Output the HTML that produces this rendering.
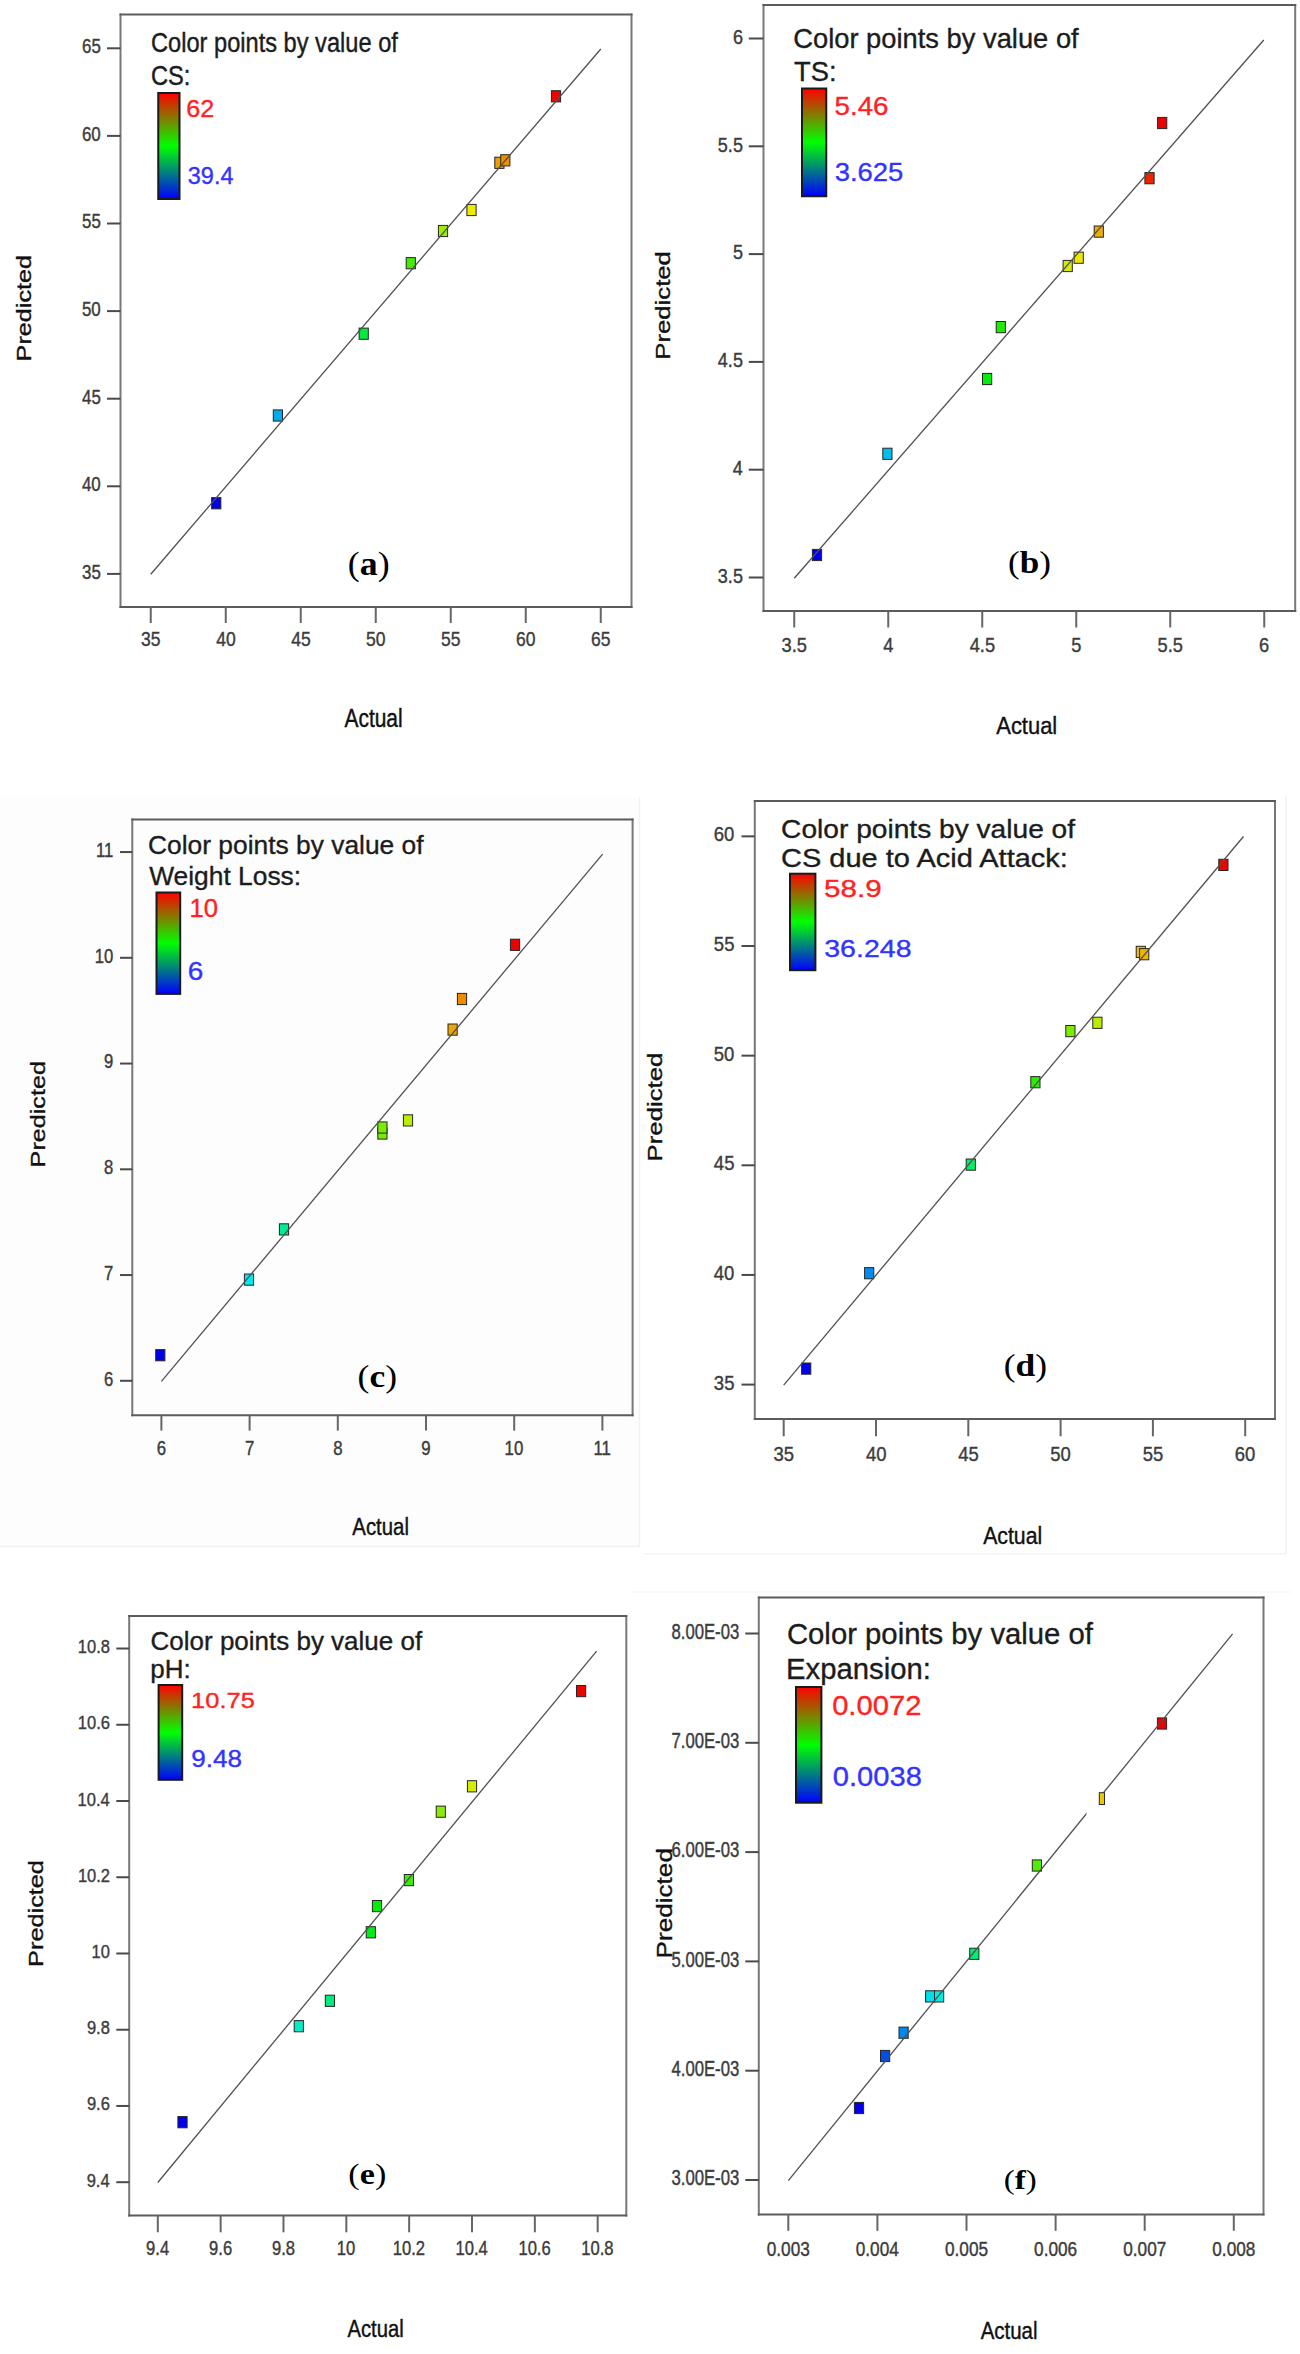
<!DOCTYPE html>
<html><head><meta charset="utf-8"><title>Predicted vs Actual</title>
<style>
html,body{margin:0;padding:0;background:#fff;}
body{width:1300px;height:2354px;overflow:hidden;font-family:"Liberation Sans",sans-serif;}
svg{display:block;}
#wrap{width:1300px;height:2354px;}
</style></head>
<body>
<div id="wrap">
<svg width="1300" height="2354" viewBox="0 0 1300 2354">
<defs>
<linearGradient id="cb" x1="0" y1="0" x2="0" y2="1">
<stop offset="0" stop-color="#ff0000"/>
<stop offset="0.5" stop-color="#00ff00"/>
<stop offset="1" stop-color="#0000ff"/>
</linearGradient>
</defs>
<rect x="0" y="0" width="1300" height="2354" fill="#ffffff"/>
<rect x="0" y="797" width="639.5" height="749" fill="#fdfdfd"/>
<path d="M639.5,797V1546.5H0" stroke="#f1f1f1" stroke-width="1.5" fill="none"/>
<path d="M644,1553.8H1286V795" stroke="#f4f4f4" stroke-width="1.5" fill="none"/>
<path d="M632,1592H1292" stroke="#f6f6f6" stroke-width="1.2" fill="none"/>
<path d="M120.50,13.50V608.00M631.50,13.50V608.00" stroke="#787878" stroke-width="2" fill="none"/>
<path d="M119.50,14.50H632.50M119.50,607.00H632.50" stroke="#5c5c5c" stroke-width="2" fill="none"/>
<line x1="150.75" y1="607.00" x2="150.75" y2="623.00" stroke="#666666" stroke-width="2"/>
<line x1="225.75" y1="607.00" x2="225.75" y2="623.00" stroke="#666666" stroke-width="2"/>
<line x1="300.75" y1="607.00" x2="300.75" y2="623.00" stroke="#666666" stroke-width="2"/>
<line x1="375.75" y1="607.00" x2="375.75" y2="623.00" stroke="#666666" stroke-width="2"/>
<line x1="450.75" y1="607.00" x2="450.75" y2="623.00" stroke="#666666" stroke-width="2"/>
<line x1="525.75" y1="607.00" x2="525.75" y2="623.00" stroke="#666666" stroke-width="2"/>
<line x1="600.75" y1="607.00" x2="600.75" y2="623.00" stroke="#666666" stroke-width="2"/>
<line x1="107.00" y1="573.90" x2="120.50" y2="573.90" stroke="#4a4a4a" stroke-width="2"/>
<line x1="107.00" y1="486.30" x2="120.50" y2="486.30" stroke="#4a4a4a" stroke-width="2"/>
<line x1="107.00" y1="398.70" x2="120.50" y2="398.70" stroke="#4a4a4a" stroke-width="2"/>
<line x1="107.00" y1="311.10" x2="120.50" y2="311.10" stroke="#4a4a4a" stroke-width="2"/>
<line x1="107.00" y1="223.50" x2="120.50" y2="223.50" stroke="#4a4a4a" stroke-width="2"/>
<line x1="107.00" y1="135.90" x2="120.50" y2="135.90" stroke="#4a4a4a" stroke-width="2"/>
<line x1="107.00" y1="48.30" x2="120.50" y2="48.30" stroke="#4a4a4a" stroke-width="2"/>
<text transform="translate(141.04,646.24) scale(0.8900,1.0000)" font-family='"Liberation Sans", sans-serif' font-weight="normal" font-size="19.70" fill="#3c3c3c" stroke="#3c3c3c" stroke-width="0.39">35</text>
<text transform="translate(216.15,646.24) scale(0.8900,1.0000)" font-family='"Liberation Sans", sans-serif' font-weight="normal" font-size="19.70" fill="#3c3c3c" stroke="#3c3c3c" stroke-width="0.39">40</text>
<text transform="translate(291.17,646.24) scale(0.8900,1.0000)" font-family='"Liberation Sans", sans-serif' font-weight="normal" font-size="19.70" fill="#3c3c3c" stroke="#3c3c3c" stroke-width="0.39">45</text>
<text transform="translate(366.00,646.24) scale(0.8900,1.0000)" font-family='"Liberation Sans", sans-serif' font-weight="normal" font-size="19.70" fill="#3c3c3c" stroke="#3c3c3c" stroke-width="0.39">50</text>
<text transform="translate(441.02,646.24) scale(0.8900,1.0000)" font-family='"Liberation Sans", sans-serif' font-weight="normal" font-size="19.70" fill="#3c3c3c" stroke="#3c3c3c" stroke-width="0.39">55</text>
<text transform="translate(515.91,646.24) scale(0.8900,1.0000)" font-family='"Liberation Sans", sans-serif' font-weight="normal" font-size="19.70" fill="#3c3c3c" stroke="#3c3c3c" stroke-width="0.39">60</text>
<text transform="translate(590.93,646.24) scale(0.8900,1.0000)" font-family='"Liberation Sans", sans-serif' font-weight="normal" font-size="19.70" fill="#3c3c3c" stroke="#3c3c3c" stroke-width="0.39">65</text>
<text transform="translate(82.00,578.74) scale(0.8500,1.0000)" font-family='"Liberation Sans", sans-serif' font-weight="normal" font-size="19.90" fill="#3c3c3c" stroke="#3c3c3c" stroke-width="0.41">35</text>
<text transform="translate(81.96,491.14) scale(0.8500,1.0000)" font-family='"Liberation Sans", sans-serif' font-weight="normal" font-size="19.90" fill="#3c3c3c" stroke="#3c3c3c" stroke-width="0.41">40</text>
<text transform="translate(82.00,403.54) scale(0.8500,1.0000)" font-family='"Liberation Sans", sans-serif' font-weight="normal" font-size="19.90" fill="#3c3c3c" stroke="#3c3c3c" stroke-width="0.41">45</text>
<text transform="translate(81.96,315.94) scale(0.8500,1.0000)" font-family='"Liberation Sans", sans-serif' font-weight="normal" font-size="19.90" fill="#3c3c3c" stroke="#3c3c3c" stroke-width="0.41">50</text>
<text transform="translate(82.00,228.34) scale(0.8500,1.0000)" font-family='"Liberation Sans", sans-serif' font-weight="normal" font-size="19.90" fill="#3c3c3c" stroke="#3c3c3c" stroke-width="0.41">55</text>
<text transform="translate(81.96,140.74) scale(0.8500,1.0000)" font-family='"Liberation Sans", sans-serif' font-weight="normal" font-size="19.90" fill="#3c3c3c" stroke="#3c3c3c" stroke-width="0.41">60</text>
<text transform="translate(82.00,53.14) scale(0.8500,1.0000)" font-family='"Liberation Sans", sans-serif' font-weight="normal" font-size="19.90" fill="#3c3c3c" stroke="#3c3c3c" stroke-width="0.41">65</text>
<rect x="211.65" y="497.65" width="9.20" height="11.20" fill="#0000ed" stroke="#262626" stroke-width="1"/>
<rect x="273.30" y="409.90" width="9.20" height="11.20" fill="#00abed" stroke="#262626" stroke-width="1"/>
<rect x="359.10" y="328.10" width="9.20" height="11.20" fill="#00ed3f" stroke="#262626" stroke-width="1"/>
<rect x="406.20" y="257.60" width="9.20" height="11.20" fill="#44ed00" stroke="#262626" stroke-width="1"/>
<rect x="438.40" y="225.40" width="9.20" height="11.20" fill="#9eed00" stroke="#262626" stroke-width="1"/>
<rect x="466.90" y="204.40" width="9.20" height="11.20" fill="#edeb00" stroke="#262626" stroke-width="1"/>
<rect x="494.80" y="157.20" width="9.20" height="11.20" fill="#ed9d00" stroke="#262626" stroke-width="1"/>
<rect x="500.70" y="154.70" width="9.20" height="11.20" fill="#ed8d00" stroke="#262626" stroke-width="1"/>
<rect x="551.40" y="90.70" width="9.20" height="11.20" fill="#ed0000" stroke="#262626" stroke-width="1"/>
<line x1="150.75" y1="574.25" x2="600.80" y2="49.00" stroke="#505050" stroke-width="1.3"/>
<text transform="translate(151.02,51.73) scale(0.8847,1.0000)" font-family='"Liberation Sans", sans-serif' font-weight="normal" font-size="26.71" fill="#1c1c1c" stroke="#1c1c1c" stroke-width="0.40">Color points by value of</text>
<text transform="translate(151.02,84.73) scale(0.8847,1.0000)" font-family='"Liberation Sans", sans-serif' font-weight="normal" font-size="26.71" fill="#1c1c1c" stroke="#1c1c1c" stroke-width="0.40">CS:</text>
<rect x="158.25" y="93.00" width="21.25" height="106.00" fill="url(#cb)" stroke="#1a1a1a" stroke-width="2"/>
<text transform="translate(186.20,117.07) scale(1.0697,1.0000)" font-family='"Liberation Sans", sans-serif' font-weight="normal" font-size="23.46" fill="#ff2222" stroke="#ff2222" stroke-width="0.35">62</text>
<text transform="translate(187.82,184.06) scale(0.9705,1.0000)" font-family='"Liberation Sans", sans-serif' font-weight="normal" font-size="24.17" fill="#3333ff" stroke="#3333ff" stroke-width="0.36">39.4</text>
<text transform="translate(347.84,574.75) scale(1.0801,1.0000)" font-family='"Liberation Serif", serif' font-weight="bold" font-size="33.17" fill="#000000" stroke="#000000" stroke-width="0.00"><tspan font-weight="normal">(</tspan>a<tspan font-weight="normal">)</tspan></text>
<text transform="translate(30.61,361.38) rotate(-90) scale(1.0000,0.7717)" font-family='"Liberation Sans", sans-serif' font-weight="normal" font-size="25.21" fill="#111111" stroke="#111111" stroke-width="0.45">Predicted</text>
<text transform="translate(344.45,727.20) scale(0.8427,1.0000)" font-family='"Liberation Sans", sans-serif' font-weight="normal" font-size="24.87" fill="#111111" stroke="#111111" stroke-width="0.42">Actual</text>
<path d="M763.50,4.00V612.00M1295.20,4.00V612.00" stroke="#787878" stroke-width="2" fill="none"/>
<path d="M762.50,5.00H1296.20M762.50,611.00H1296.20" stroke="#5c5c5c" stroke-width="2" fill="none"/>
<line x1="794.25" y1="611.00" x2="794.25" y2="627.50" stroke="#666666" stroke-width="2"/>
<line x1="888.25" y1="611.00" x2="888.25" y2="627.50" stroke="#666666" stroke-width="2"/>
<line x1="982.25" y1="611.00" x2="982.25" y2="627.50" stroke="#666666" stroke-width="2"/>
<line x1="1076.25" y1="611.00" x2="1076.25" y2="627.50" stroke="#666666" stroke-width="2"/>
<line x1="1170.25" y1="611.00" x2="1170.25" y2="627.50" stroke="#666666" stroke-width="2"/>
<line x1="1264.25" y1="611.00" x2="1264.25" y2="627.50" stroke="#666666" stroke-width="2"/>
<line x1="748.75" y1="577.50" x2="763.50" y2="577.50" stroke="#4a4a4a" stroke-width="2"/>
<line x1="748.75" y1="469.70" x2="763.50" y2="469.70" stroke="#4a4a4a" stroke-width="2"/>
<line x1="748.75" y1="361.90" x2="763.50" y2="361.90" stroke="#4a4a4a" stroke-width="2"/>
<line x1="748.75" y1="254.10" x2="763.50" y2="254.10" stroke="#4a4a4a" stroke-width="2"/>
<line x1="748.75" y1="146.30" x2="763.50" y2="146.30" stroke="#4a4a4a" stroke-width="2"/>
<line x1="748.75" y1="38.50" x2="763.50" y2="38.50" stroke="#4a4a4a" stroke-width="2"/>
<text transform="translate(781.58,652.35) scale(0.8700,1.0000)" font-family='"Liberation Sans", sans-serif' font-weight="normal" font-size="21.00" fill="#3c3c3c" stroke="#3c3c3c" stroke-width="0.40">3.5</text>
<text transform="translate(883.23,652.35) scale(0.8700,1.0000)" font-family='"Liberation Sans", sans-serif' font-weight="normal" font-size="21.00" fill="#3c3c3c" stroke="#3c3c3c" stroke-width="0.40">4</text>
<text transform="translate(969.71,652.35) scale(0.8700,1.0000)" font-family='"Liberation Sans", sans-serif' font-weight="normal" font-size="21.00" fill="#3c3c3c" stroke="#3c3c3c" stroke-width="0.40">4.5</text>
<text transform="translate(1071.18,652.35) scale(0.8700,1.0000)" font-family='"Liberation Sans", sans-serif' font-weight="normal" font-size="21.00" fill="#3c3c3c" stroke="#3c3c3c" stroke-width="0.40">5</text>
<text transform="translate(1157.55,652.35) scale(0.8700,1.0000)" font-family='"Liberation Sans", sans-serif' font-weight="normal" font-size="21.00" fill="#3c3c3c" stroke="#3c3c3c" stroke-width="0.40">5.5</text>
<text transform="translate(1259.11,652.35) scale(0.8700,1.0000)" font-family='"Liberation Sans", sans-serif' font-weight="normal" font-size="21.00" fill="#3c3c3c" stroke="#3c3c3c" stroke-width="0.40">6</text>
<text transform="translate(717.82,582.72) scale(0.8600,1.0000)" font-family='"Liberation Sans", sans-serif' font-weight="normal" font-size="21.00" fill="#3c3c3c" stroke="#3c3c3c" stroke-width="0.41">3.5</text>
<text transform="translate(732.67,474.92) scale(0.8600,1.0000)" font-family='"Liberation Sans", sans-serif' font-weight="normal" font-size="21.00" fill="#3c3c3c" stroke="#3c3c3c" stroke-width="0.41">4</text>
<text transform="translate(717.82,367.12) scale(0.8600,1.0000)" font-family='"Liberation Sans", sans-serif' font-weight="normal" font-size="21.00" fill="#3c3c3c" stroke="#3c3c3c" stroke-width="0.41">4.5</text>
<text transform="translate(732.90,259.32) scale(0.8600,1.0000)" font-family='"Liberation Sans", sans-serif' font-weight="normal" font-size="21.00" fill="#3c3c3c" stroke="#3c3c3c" stroke-width="0.41">5</text>
<text transform="translate(717.82,151.52) scale(0.8600,1.0000)" font-family='"Liberation Sans", sans-serif' font-weight="normal" font-size="21.00" fill="#3c3c3c" stroke="#3c3c3c" stroke-width="0.41">5.5</text>
<text transform="translate(732.94,43.72) scale(0.8600,1.0000)" font-family='"Liberation Sans", sans-serif' font-weight="normal" font-size="21.00" fill="#3c3c3c" stroke="#3c3c3c" stroke-width="0.41">6</text>
<rect x="812.40" y="549.40" width="9.20" height="11.20" fill="#0000ed" stroke="#262626" stroke-width="1"/>
<rect x="882.80" y="448.20" width="9.20" height="11.20" fill="#00bfed" stroke="#262626" stroke-width="1"/>
<rect x="982.50" y="373.40" width="9.20" height="11.20" fill="#00ed08" stroke="#262626" stroke-width="1"/>
<rect x="996.20" y="321.50" width="9.20" height="11.20" fill="#1ded00" stroke="#262626" stroke-width="1"/>
<rect x="1063.10" y="260.40" width="9.20" height="11.20" fill="#d4ed00" stroke="#262626" stroke-width="1"/>
<rect x="1074.10" y="252.10" width="9.20" height="11.20" fill="#ede700" stroke="#262626" stroke-width="1"/>
<rect x="1094.20" y="226.00" width="9.20" height="11.20" fill="#edaf00" stroke="#262626" stroke-width="1"/>
<rect x="1144.90" y="172.60" width="9.20" height="11.20" fill="#ed2400" stroke="#262626" stroke-width="1"/>
<rect x="1157.60" y="117.40" width="9.20" height="11.20" fill="#ed0100" stroke="#262626" stroke-width="1"/>
<line x1="794.25" y1="578.25" x2="1263.80" y2="40.00" stroke="#505050" stroke-width="1.3"/>
<text transform="translate(793.23,47.52) scale(0.9620,1.0000)" font-family='"Liberation Sans", sans-serif' font-weight="normal" font-size="28.41" fill="#1c1c1c" stroke="#1c1c1c" stroke-width="0.36">Color points by value of</text>
<text transform="translate(793.99,80.82) scale(0.9620,1.0000)" font-family='"Liberation Sans", sans-serif' font-weight="normal" font-size="28.41" fill="#1c1c1c" stroke="#1c1c1c" stroke-width="0.36">TS:</text>
<rect x="802.00" y="88.50" width="24.25" height="107.75" fill="url(#cb)" stroke="#1a1a1a" stroke-width="2"/>
<text transform="translate(834.59,115.03) scale(1.0389,1.0000)" font-family='"Liberation Sans", sans-serif' font-weight="normal" font-size="26.67" fill="#ff2222" stroke="#ff2222" stroke-width="0.35">5.46</text>
<text transform="translate(834.67,181.04) scale(1.0447,1.0000)" font-family='"Liberation Sans", sans-serif' font-weight="normal" font-size="26.29" fill="#3333ff" stroke="#3333ff" stroke-width="0.35">3.625</text>
<text transform="translate(1008.12,572.72) scale(1.0824,1.0000)" font-family='"Liberation Serif", serif' font-weight="bold" font-size="32.40" fill="#000000" stroke="#000000" stroke-width="0.00"><tspan font-weight="normal">(</tspan>b<tspan font-weight="normal">)</tspan></text>
<text transform="translate(669.59,359.72) rotate(-90) scale(1.0000,0.8091)" font-family='"Liberation Sans", sans-serif' font-weight="normal" font-size="25.73" fill="#111111" stroke="#111111" stroke-width="0.43">Predicted</text>
<text transform="translate(996.25,734.10) scale(0.8879,1.0000)" font-family='"Liberation Sans", sans-serif' font-weight="normal" font-size="24.73" fill="#111111" stroke="#111111" stroke-width="0.39">Actual</text>
<path d="M132.30,818.40V1416.20M632.60,818.40V1416.20" stroke="#787878" stroke-width="2" fill="none"/>
<path d="M131.30,819.40H633.60M131.30,1415.20H633.60" stroke="#5c5c5c" stroke-width="2" fill="none"/>
<line x1="161.40" y1="1415.20" x2="161.40" y2="1430.60" stroke="#666666" stroke-width="2"/>
<line x1="249.60" y1="1415.20" x2="249.60" y2="1430.60" stroke="#666666" stroke-width="2"/>
<line x1="337.80" y1="1415.20" x2="337.80" y2="1430.60" stroke="#666666" stroke-width="2"/>
<line x1="426.00" y1="1415.20" x2="426.00" y2="1430.60" stroke="#666666" stroke-width="2"/>
<line x1="514.20" y1="1415.20" x2="514.20" y2="1430.60" stroke="#666666" stroke-width="2"/>
<line x1="602.40" y1="1415.20" x2="602.40" y2="1430.60" stroke="#666666" stroke-width="2"/>
<line x1="120.00" y1="1380.80" x2="132.30" y2="1380.80" stroke="#4a4a4a" stroke-width="2"/>
<line x1="120.00" y1="1275.05" x2="132.30" y2="1275.05" stroke="#4a4a4a" stroke-width="2"/>
<line x1="120.00" y1="1169.30" x2="132.30" y2="1169.30" stroke="#4a4a4a" stroke-width="2"/>
<line x1="120.00" y1="1063.55" x2="132.30" y2="1063.55" stroke="#4a4a4a" stroke-width="2"/>
<line x1="120.00" y1="957.80" x2="132.30" y2="957.80" stroke="#4a4a4a" stroke-width="2"/>
<line x1="120.00" y1="852.05" x2="132.30" y2="852.05" stroke="#4a4a4a" stroke-width="2"/>
<text transform="translate(156.67,1454.91) scale(0.8500,1.0000)" font-family='"Liberation Sans", sans-serif' font-weight="normal" font-size="19.80" fill="#3c3c3c" stroke="#3c3c3c" stroke-width="0.41">6</text>
<text transform="translate(244.91,1454.91) scale(0.8500,1.0000)" font-family='"Liberation Sans", sans-serif' font-weight="normal" font-size="19.80" fill="#3c3c3c" stroke="#3c3c3c" stroke-width="0.41">7</text>
<text transform="translate(333.13,1454.91) scale(0.8500,1.0000)" font-family='"Liberation Sans", sans-serif' font-weight="normal" font-size="19.80" fill="#3c3c3c" stroke="#3c3c3c" stroke-width="0.41">8</text>
<text transform="translate(421.31,1454.91) scale(0.8500,1.0000)" font-family='"Liberation Sans", sans-serif' font-weight="normal" font-size="19.80" fill="#3c3c3c" stroke="#3c3c3c" stroke-width="0.41">9</text>
<text transform="translate(504.54,1454.91) scale(0.8500,1.0000)" font-family='"Liberation Sans", sans-serif' font-weight="normal" font-size="19.80" fill="#3c3c3c" stroke="#3c3c3c" stroke-width="0.41">10</text>
<text transform="translate(593.44,1454.91) scale(0.8500,1.0000)" font-family='"Liberation Sans", sans-serif' font-weight="normal" font-size="19.80" fill="#3c3c3c" stroke="#3c3c3c" stroke-width="0.41">11</text>
<text transform="translate(103.96,1385.54) scale(0.8500,1.0000)" font-family='"Liberation Sans", sans-serif' font-weight="normal" font-size="19.60" fill="#3c3c3c" stroke="#3c3c3c" stroke-width="0.41">6</text>
<text transform="translate(104.09,1279.79) scale(0.8500,1.0000)" font-family='"Liberation Sans", sans-serif' font-weight="normal" font-size="19.60" fill="#3c3c3c" stroke="#3c3c3c" stroke-width="0.41">7</text>
<text transform="translate(103.96,1174.04) scale(0.8500,1.0000)" font-family='"Liberation Sans", sans-serif' font-weight="normal" font-size="19.60" fill="#3c3c3c" stroke="#3c3c3c" stroke-width="0.41">8</text>
<text transform="translate(104.00,1068.29) scale(0.8500,1.0000)" font-family='"Liberation Sans", sans-serif' font-weight="normal" font-size="19.60" fill="#3c3c3c" stroke="#3c3c3c" stroke-width="0.41">9</text>
<text transform="translate(94.63,962.54) scale(0.8500,1.0000)" font-family='"Liberation Sans", sans-serif' font-weight="normal" font-size="19.60" fill="#3c3c3c" stroke="#3c3c3c" stroke-width="0.41">10</text>
<text transform="translate(96.01,856.79) scale(0.8500,1.0000)" font-family='"Liberation Sans", sans-serif' font-weight="normal" font-size="19.60" fill="#3c3c3c" stroke="#3c3c3c" stroke-width="0.41">11</text>
<rect x="155.70" y="1349.60" width="9.20" height="11.20" fill="#0000ed" stroke="#262626" stroke-width="1"/>
<rect x="244.40" y="1274.00" width="9.20" height="11.20" fill="#00ebed" stroke="#262626" stroke-width="1"/>
<rect x="279.40" y="1223.80" width="9.20" height="11.20" fill="#00ed90" stroke="#262626" stroke-width="1"/>
<rect x="377.80" y="1127.90" width="9.20" height="11.20" fill="#77ed00" stroke="#262626" stroke-width="1"/>
<rect x="377.80" y="1121.90" width="9.20" height="11.20" fill="#77ed00" stroke="#262626" stroke-width="1"/>
<rect x="403.40" y="1114.80" width="9.20" height="11.20" fill="#bced00" stroke="#262626" stroke-width="1"/>
<rect x="448.00" y="1024.00" width="9.20" height="11.20" fill="#eda500" stroke="#262626" stroke-width="1"/>
<rect x="457.40" y="993.40" width="9.20" height="11.20" fill="#ed8c00" stroke="#262626" stroke-width="1"/>
<rect x="510.40" y="939.20" width="9.20" height="11.20" fill="#ed0000" stroke="#262626" stroke-width="1"/>
<line x1="161.40" y1="1381.30" x2="602.60" y2="854.20" stroke="#505050" stroke-width="1.3"/>
<text transform="translate(147.98,853.54) scale(1.0034,1.0000)" font-family='"Liberation Sans", sans-serif' font-weight="normal" font-size="26.29" fill="#1c1c1c" stroke="#1c1c1c" stroke-width="0.35">Color points by value of</text>
<text transform="translate(149.17,885.24) scale(1.0034,1.0000)" font-family='"Liberation Sans", sans-serif' font-weight="normal" font-size="26.29" fill="#1c1c1c" stroke="#1c1c1c" stroke-width="0.35">Weight Loss:</text>
<rect x="156.50" y="892.50" width="23.70" height="101.40" fill="url(#cb)" stroke="#1a1a1a" stroke-width="2"/>
<text transform="translate(189.38,917.10) scale(0.9912,1.0000)" font-family='"Liberation Sans", sans-serif' font-weight="normal" font-size="25.89" fill="#ff2222" stroke="#ff2222" stroke-width="0.35">10</text>
<text transform="translate(187.81,980.23) scale(1.0497,1.0000)" font-family='"Liberation Sans", sans-serif' font-weight="normal" font-size="26.57" fill="#3333ff" stroke="#3333ff" stroke-width="0.35">6</text>
<text transform="translate(357.60,1386.59) scale(1.0921,1.0000)" font-family='"Liberation Serif", serif' font-weight="bold" font-size="32.51" fill="#000000" stroke="#000000" stroke-width="0.00"><tspan font-weight="normal">(</tspan>c<tspan font-weight="normal">)</tspan></text>
<text transform="translate(44.89,1167.38) rotate(-90) scale(1.0000,0.8327)" font-family='"Liberation Sans", sans-serif' font-weight="normal" font-size="25.16" fill="#111111" stroke="#111111" stroke-width="0.42">Predicted</text>
<text transform="translate(352.35,1535.30) scale(0.8752,1.0000)" font-family='"Liberation Sans", sans-serif' font-weight="normal" font-size="23.27" fill="#111111" stroke="#111111" stroke-width="0.40">Actual</text>
<path d="M754.80,799.90V1420.10M1275.00,799.90V1420.10" stroke="#787878" stroke-width="2" fill="none"/>
<path d="M753.80,800.90H1276.00M753.80,1419.10H1276.00" stroke="#5c5c5c" stroke-width="2" fill="none"/>
<line x1="783.70" y1="1419.10" x2="783.70" y2="1436.30" stroke="#666666" stroke-width="2"/>
<line x1="876.00" y1="1419.10" x2="876.00" y2="1436.30" stroke="#666666" stroke-width="2"/>
<line x1="968.30" y1="1419.10" x2="968.30" y2="1436.30" stroke="#666666" stroke-width="2"/>
<line x1="1060.60" y1="1419.10" x2="1060.60" y2="1436.30" stroke="#666666" stroke-width="2"/>
<line x1="1152.90" y1="1419.10" x2="1152.90" y2="1436.30" stroke="#666666" stroke-width="2"/>
<line x1="1245.20" y1="1419.10" x2="1245.20" y2="1436.30" stroke="#666666" stroke-width="2"/>
<line x1="741.50" y1="1384.60" x2="754.80" y2="1384.60" stroke="#4a4a4a" stroke-width="2"/>
<line x1="741.50" y1="1274.95" x2="754.80" y2="1274.95" stroke="#4a4a4a" stroke-width="2"/>
<line x1="741.50" y1="1165.30" x2="754.80" y2="1165.30" stroke="#4a4a4a" stroke-width="2"/>
<line x1="741.50" y1="1055.65" x2="754.80" y2="1055.65" stroke="#4a4a4a" stroke-width="2"/>
<line x1="741.50" y1="946.00" x2="754.80" y2="946.00" stroke="#4a4a4a" stroke-width="2"/>
<line x1="741.50" y1="836.35" x2="754.80" y2="836.35" stroke="#4a4a4a" stroke-width="2"/>
<text transform="translate(773.47,1460.95) scale(0.8800,1.0000)" font-family='"Liberation Sans", sans-serif' font-weight="normal" font-size="21.00" fill="#3c3c3c" stroke="#3c3c3c" stroke-width="0.40">35</text>
<text transform="translate(865.88,1460.95) scale(0.8800,1.0000)" font-family='"Liberation Sans", sans-serif' font-weight="normal" font-size="21.00" fill="#3c3c3c" stroke="#3c3c3c" stroke-width="0.40">40</text>
<text transform="translate(958.21,1460.95) scale(0.8800,1.0000)" font-family='"Liberation Sans", sans-serif' font-weight="normal" font-size="21.00" fill="#3c3c3c" stroke="#3c3c3c" stroke-width="0.40">45</text>
<text transform="translate(1050.32,1460.95) scale(0.8800,1.0000)" font-family='"Liberation Sans", sans-serif' font-weight="normal" font-size="21.00" fill="#3c3c3c" stroke="#3c3c3c" stroke-width="0.40">50</text>
<text transform="translate(1142.64,1460.95) scale(0.8800,1.0000)" font-family='"Liberation Sans", sans-serif' font-weight="normal" font-size="21.00" fill="#3c3c3c" stroke="#3c3c3c" stroke-width="0.40">55</text>
<text transform="translate(1234.83,1460.95) scale(0.8800,1.0000)" font-family='"Liberation Sans", sans-serif' font-weight="normal" font-size="21.00" fill="#3c3c3c" stroke="#3c3c3c" stroke-width="0.40">60</text>
<text transform="translate(713.86,1389.68) scale(0.9000,1.0000)" font-family='"Liberation Sans", sans-serif' font-weight="normal" font-size="20.60" fill="#3c3c3c" stroke="#3c3c3c" stroke-width="0.39">35</text>
<text transform="translate(713.82,1280.03) scale(0.9000,1.0000)" font-family='"Liberation Sans", sans-serif' font-weight="normal" font-size="20.60" fill="#3c3c3c" stroke="#3c3c3c" stroke-width="0.39">40</text>
<text transform="translate(713.86,1170.38) scale(0.9000,1.0000)" font-family='"Liberation Sans", sans-serif' font-weight="normal" font-size="20.60" fill="#3c3c3c" stroke="#3c3c3c" stroke-width="0.39">45</text>
<text transform="translate(713.82,1060.73) scale(0.9000,1.0000)" font-family='"Liberation Sans", sans-serif' font-weight="normal" font-size="20.60" fill="#3c3c3c" stroke="#3c3c3c" stroke-width="0.39">50</text>
<text transform="translate(713.86,951.08) scale(0.9000,1.0000)" font-family='"Liberation Sans", sans-serif' font-weight="normal" font-size="20.60" fill="#3c3c3c" stroke="#3c3c3c" stroke-width="0.39">55</text>
<text transform="translate(713.82,841.43) scale(0.9000,1.0000)" font-family='"Liberation Sans", sans-serif' font-weight="normal" font-size="20.60" fill="#3c3c3c" stroke="#3c3c3c" stroke-width="0.39">60</text>
<rect x="801.60" y="1363.00" width="9.20" height="11.20" fill="#0000ed" stroke="#262626" stroke-width="1"/>
<rect x="864.60" y="1267.60" width="9.20" height="11.20" fill="#008ded" stroke="#262626" stroke-width="1"/>
<rect x="966.20" y="1159.00" width="9.20" height="11.20" fill="#00ed66" stroke="#262626" stroke-width="1"/>
<rect x="1030.80" y="1076.60" width="9.20" height="11.20" fill="#2ced00" stroke="#262626" stroke-width="1"/>
<rect x="1065.80" y="1025.50" width="9.20" height="11.20" fill="#7bed00" stroke="#262626" stroke-width="1"/>
<rect x="1092.80" y="1017.20" width="9.20" height="11.20" fill="#b9ed00" stroke="#262626" stroke-width="1"/>
<rect x="1136.20" y="946.30" width="9.20" height="11.20" fill="#edbe00" stroke="#262626" stroke-width="1"/>
<rect x="1139.60" y="948.60" width="9.20" height="11.20" fill="#edb700" stroke="#262626" stroke-width="1"/>
<rect x="1218.80" y="859.30" width="9.20" height="11.20" fill="#ed0300" stroke="#262626" stroke-width="1"/>
<line x1="783.70" y1="1385.20" x2="1243.50" y2="836.50" stroke="#505050" stroke-width="1.3"/>
<text transform="translate(781.09,837.64) scale(1.0882,1.0000)" font-family='"Liberation Sans", sans-serif' font-weight="normal" font-size="25.87" fill="#1c1c1c" stroke="#1c1c1c" stroke-width="0.35">Color points by value of</text>
<text transform="translate(781.05,867.24) scale(1.1208,1.0000)" font-family='"Liberation Sans", sans-serif' font-weight="normal" font-size="25.87" fill="#1c1c1c" stroke="#1c1c1c" stroke-width="0.35">CS due to Acid Attack:</text>
<rect x="790.00" y="873.70" width="25.40" height="96.50" fill="url(#cb)" stroke="#1a1a1a" stroke-width="2"/>
<text transform="translate(824.12,897.06) scale(1.2425,1.0000)" font-family='"Liberation Sans", sans-serif' font-weight="normal" font-size="23.80" fill="#ff2222" stroke="#ff2222" stroke-width="0.35">58.9</text>
<text transform="translate(824.23,956.56) scale(1.1811,1.0000)" font-family='"Liberation Sans", sans-serif' font-weight="normal" font-size="24.17" fill="#3333ff" stroke="#3333ff" stroke-width="0.35">36.248</text>
<text transform="translate(1003.71,1375.52) scale(1.0933,1.0000)" font-family='"Liberation Serif", serif' font-weight="bold" font-size="32.40" fill="#000000" stroke="#000000" stroke-width="0.00"><tspan font-weight="normal">(</tspan>d<tspan font-weight="normal">)</tspan></text>
<text transform="translate(662.10,1161.43) rotate(-90) scale(1.0000,0.7706)" font-family='"Liberation Sans", sans-serif' font-weight="normal" font-size="25.78" fill="#111111" stroke="#111111" stroke-width="0.45">Predicted</text>
<text transform="translate(983.15,1543.70) scale(0.9020,1.0000)" font-family='"Liberation Sans", sans-serif' font-weight="normal" font-size="23.56" fill="#111111" stroke="#111111" stroke-width="0.39">Actual</text>
<path d="M129.20,1615.10V2216.50M626.30,1615.10V2216.50" stroke="#787878" stroke-width="2" fill="none"/>
<path d="M128.20,1616.10H627.30M128.20,2215.50H627.30" stroke="#5c5c5c" stroke-width="2" fill="none"/>
<line x1="157.80" y1="2215.50" x2="157.80" y2="2232.30" stroke="#666666" stroke-width="2"/>
<line x1="220.64" y1="2215.50" x2="220.64" y2="2232.30" stroke="#666666" stroke-width="2"/>
<line x1="283.48" y1="2215.50" x2="283.48" y2="2232.30" stroke="#666666" stroke-width="2"/>
<line x1="346.32" y1="2215.50" x2="346.32" y2="2232.30" stroke="#666666" stroke-width="2"/>
<line x1="409.16" y1="2215.50" x2="409.16" y2="2232.30" stroke="#666666" stroke-width="2"/>
<line x1="472.00" y1="2215.50" x2="472.00" y2="2232.30" stroke="#666666" stroke-width="2"/>
<line x1="534.84" y1="2215.50" x2="534.84" y2="2232.30" stroke="#666666" stroke-width="2"/>
<line x1="597.68" y1="2215.50" x2="597.68" y2="2232.30" stroke="#666666" stroke-width="2"/>
<line x1="116.30" y1="2182.20" x2="129.20" y2="2182.20" stroke="#4a4a4a" stroke-width="2"/>
<line x1="116.30" y1="2105.96" x2="129.20" y2="2105.96" stroke="#4a4a4a" stroke-width="2"/>
<line x1="116.30" y1="2029.72" x2="129.20" y2="2029.72" stroke="#4a4a4a" stroke-width="2"/>
<line x1="116.30" y1="1953.48" x2="129.20" y2="1953.48" stroke="#4a4a4a" stroke-width="2"/>
<line x1="116.30" y1="1877.24" x2="129.20" y2="1877.24" stroke="#4a4a4a" stroke-width="2"/>
<line x1="116.30" y1="1801.00" x2="129.20" y2="1801.00" stroke="#4a4a4a" stroke-width="2"/>
<line x1="116.30" y1="1724.76" x2="129.20" y2="1724.76" stroke="#4a4a4a" stroke-width="2"/>
<line x1="116.30" y1="1648.52" x2="129.20" y2="1648.52" stroke="#4a4a4a" stroke-width="2"/>
<text transform="translate(146.11,2255.40) scale(0.8500,1.0000)" font-family='"Liberation Sans", sans-serif' font-weight="normal" font-size="19.50" fill="#3c3c3c" stroke="#3c3c3c" stroke-width="0.41">9.4</text>
<text transform="translate(209.08,2255.40) scale(0.8500,1.0000)" font-family='"Liberation Sans", sans-serif' font-weight="normal" font-size="19.50" fill="#3c3c3c" stroke="#3c3c3c" stroke-width="0.41">9.6</text>
<text transform="translate(271.92,2255.40) scale(0.8500,1.0000)" font-family='"Liberation Sans", sans-serif' font-weight="normal" font-size="19.50" fill="#3c3c3c" stroke="#3c3c3c" stroke-width="0.41">9.8</text>
<text transform="translate(336.81,2255.40) scale(0.8500,1.0000)" font-family='"Liberation Sans", sans-serif' font-weight="normal" font-size="19.50" fill="#3c3c3c" stroke="#3c3c3c" stroke-width="0.41">10</text>
<text transform="translate(392.83,2255.40) scale(0.8500,1.0000)" font-family='"Liberation Sans", sans-serif' font-weight="normal" font-size="19.50" fill="#3c3c3c" stroke="#3c3c3c" stroke-width="0.41">10.2</text>
<text transform="translate(455.49,2255.40) scale(0.8500,1.0000)" font-family='"Liberation Sans", sans-serif' font-weight="normal" font-size="19.50" fill="#3c3c3c" stroke="#3c3c3c" stroke-width="0.41">10.4</text>
<text transform="translate(518.45,2255.40) scale(0.8500,1.0000)" font-family='"Liberation Sans", sans-serif' font-weight="normal" font-size="19.50" fill="#3c3c3c" stroke="#3c3c3c" stroke-width="0.41">10.6</text>
<text transform="translate(581.29,2255.40) scale(0.8500,1.0000)" font-family='"Liberation Sans", sans-serif' font-weight="normal" font-size="19.50" fill="#3c3c3c" stroke="#3c3c3c" stroke-width="0.41">10.8</text>
<text transform="translate(86.68,2186.73) scale(0.8700,1.0000)" font-family='"Liberation Sans", sans-serif' font-weight="normal" font-size="19.00" fill="#3c3c3c" stroke="#3c3c3c" stroke-width="0.40">9.4</text>
<text transform="translate(86.93,2110.49) scale(0.8700,1.0000)" font-family='"Liberation Sans", sans-serif' font-weight="normal" font-size="19.00" fill="#3c3c3c" stroke="#3c3c3c" stroke-width="0.40">9.6</text>
<text transform="translate(86.93,2034.25) scale(0.8700,1.0000)" font-family='"Liberation Sans", sans-serif' font-weight="normal" font-size="19.00" fill="#3c3c3c" stroke="#3c3c3c" stroke-width="0.40">9.8</text>
<text transform="translate(91.47,1958.01) scale(0.8700,1.0000)" font-family='"Liberation Sans", sans-serif' font-weight="normal" font-size="19.00" fill="#3c3c3c" stroke="#3c3c3c" stroke-width="0.40">10</text>
<text transform="translate(77.88,1881.77) scale(0.8700,1.0000)" font-family='"Liberation Sans", sans-serif' font-weight="normal" font-size="19.00" fill="#3c3c3c" stroke="#3c3c3c" stroke-width="0.40">10.2</text>
<text transform="translate(77.50,1805.53) scale(0.8700,1.0000)" font-family='"Liberation Sans", sans-serif' font-weight="normal" font-size="19.00" fill="#3c3c3c" stroke="#3c3c3c" stroke-width="0.40">10.4</text>
<text transform="translate(77.75,1729.29) scale(0.8700,1.0000)" font-family='"Liberation Sans", sans-serif' font-weight="normal" font-size="19.00" fill="#3c3c3c" stroke="#3c3c3c" stroke-width="0.40">10.6</text>
<text transform="translate(77.75,1653.05) scale(0.8700,1.0000)" font-family='"Liberation Sans", sans-serif' font-weight="normal" font-size="19.00" fill="#3c3c3c" stroke="#3c3c3c" stroke-width="0.40">10.8</text>
<rect x="177.90" y="2116.60" width="9.20" height="11.20" fill="#0000ed" stroke="#262626" stroke-width="1"/>
<rect x="294.20" y="2020.60" width="9.20" height="11.20" fill="#00edc6" stroke="#262626" stroke-width="1"/>
<rect x="325.30" y="1995.20" width="9.20" height="11.20" fill="#00ed7c" stroke="#262626" stroke-width="1"/>
<rect x="366.20" y="1926.70" width="9.20" height="11.20" fill="#00ed1b" stroke="#262626" stroke-width="1"/>
<rect x="372.40" y="1900.50" width="9.20" height="11.20" fill="#00ed0c" stroke="#262626" stroke-width="1"/>
<rect x="404.30" y="1874.50" width="9.20" height="11.20" fill="#3eed00" stroke="#262626" stroke-width="1"/>
<rect x="436.20" y="1806.10" width="9.20" height="11.20" fill="#8aed00" stroke="#262626" stroke-width="1"/>
<rect x="467.40" y="1780.70" width="9.20" height="11.20" fill="#d4ed00" stroke="#262626" stroke-width="1"/>
<rect x="576.50" y="1685.50" width="9.20" height="11.20" fill="#ed0200" stroke="#262626" stroke-width="1"/>
<line x1="157.80" y1="2182.50" x2="596.60" y2="1651.20" stroke="#505050" stroke-width="1.3"/>
<text transform="translate(150.60,1649.55) scale(1.0390,1.0000)" font-family='"Liberation Sans", sans-serif' font-weight="normal" font-size="25.02" fill="#1c1c1c" stroke="#1c1c1c" stroke-width="0.35">Color points by value of</text>
<text transform="translate(150.21,1678.25) scale(1.0390,1.0000)" font-family='"Liberation Sans", sans-serif' font-weight="normal" font-size="25.02" fill="#1c1c1c" stroke="#1c1c1c" stroke-width="0.35">pH:</text>
<rect x="158.60" y="1685.00" width="23.60" height="94.80" fill="url(#cb)" stroke="#1a1a1a" stroke-width="2"/>
<text transform="translate(191.09,1707.80) scale(1.1223,1.0000)" font-family='"Liberation Sans", sans-serif' font-weight="normal" font-size="22.69" fill="#ff2222" stroke="#ff2222" stroke-width="0.35">10.75</text>
<text transform="translate(191.16,1766.77) scale(1.1325,1.0000)" font-family='"Liberation Sans", sans-serif' font-weight="normal" font-size="23.04" fill="#3333ff" stroke="#3333ff" stroke-width="0.35">9.48</text>
<text transform="translate(348.36,2183.92) scale(1.1733,1.0000)" font-family='"Liberation Serif", serif' font-weight="bold" font-size="29.09" fill="#000000" stroke="#000000" stroke-width="0.00"><tspan font-weight="normal">(</tspan>e<tspan font-weight="normal">)</tspan></text>
<text transform="translate(42.69,1966.89) rotate(-90) scale(1.0000,0.8233)" font-family='"Liberation Sans", sans-serif' font-weight="normal" font-size="25.29" fill="#111111" stroke="#111111" stroke-width="0.43">Predicted</text>
<text transform="translate(347.45,2336.80) scale(0.8635,1.0000)" font-family='"Liberation Sans", sans-serif' font-weight="normal" font-size="23.42" fill="#111111" stroke="#111111" stroke-width="0.41">Actual</text>
<path d="M758.80,1596.50V2215.40M1263.50,1596.50V2215.40" stroke="#787878" stroke-width="2" fill="none"/>
<path d="M757.80,1597.50H1264.50M757.80,2214.40H1264.50" stroke="#5c5c5c" stroke-width="2" fill="none"/>
<line x1="788.30" y1="2214.40" x2="788.30" y2="2230.80" stroke="#666666" stroke-width="2"/>
<line x1="877.40" y1="2214.40" x2="877.40" y2="2230.80" stroke="#666666" stroke-width="2"/>
<line x1="966.50" y1="2214.40" x2="966.50" y2="2230.80" stroke="#666666" stroke-width="2"/>
<line x1="1055.60" y1="2214.40" x2="1055.60" y2="2230.80" stroke="#666666" stroke-width="2"/>
<line x1="1144.70" y1="2214.40" x2="1144.70" y2="2230.80" stroke="#666666" stroke-width="2"/>
<line x1="1233.80" y1="2214.40" x2="1233.80" y2="2230.80" stroke="#666666" stroke-width="2"/>
<line x1="745.30" y1="2180.00" x2="758.80" y2="2180.00" stroke="#4a4a4a" stroke-width="2"/>
<line x1="745.30" y1="2070.70" x2="758.80" y2="2070.70" stroke="#4a4a4a" stroke-width="2"/>
<line x1="745.30" y1="1961.40" x2="758.80" y2="1961.40" stroke="#4a4a4a" stroke-width="2"/>
<line x1="745.30" y1="1852.10" x2="758.80" y2="1852.10" stroke="#4a4a4a" stroke-width="2"/>
<line x1="745.30" y1="1742.80" x2="758.80" y2="1742.80" stroke="#4a4a4a" stroke-width="2"/>
<line x1="745.30" y1="1633.50" x2="758.80" y2="1633.50" stroke="#4a4a4a" stroke-width="2"/>
<text transform="translate(766.77,2255.70) scale(0.8400,1.0000)" font-family='"Liberation Sans", sans-serif' font-weight="normal" font-size="20.50" fill="#3c3c3c" stroke="#3c3c3c" stroke-width="0.42">0.003</text>
<text transform="translate(855.75,2255.70) scale(0.8400,1.0000)" font-family='"Liberation Sans", sans-serif' font-weight="normal" font-size="20.50" fill="#3c3c3c" stroke="#3c3c3c" stroke-width="0.42">0.004</text>
<text transform="translate(944.95,2255.70) scale(0.8400,1.0000)" font-family='"Liberation Sans", sans-serif' font-weight="normal" font-size="20.50" fill="#3c3c3c" stroke="#3c3c3c" stroke-width="0.42">0.005</text>
<text transform="translate(1034.08,2255.70) scale(0.8400,1.0000)" font-family='"Liberation Sans", sans-serif' font-weight="normal" font-size="20.50" fill="#3c3c3c" stroke="#3c3c3c" stroke-width="0.42">0.006</text>
<text transform="translate(1123.24,2255.70) scale(0.8400,1.0000)" font-family='"Liberation Sans", sans-serif' font-weight="normal" font-size="20.50" fill="#3c3c3c" stroke="#3c3c3c" stroke-width="0.42">0.007</text>
<text transform="translate(1212.28,2255.70) scale(0.8400,1.0000)" font-family='"Liberation Sans", sans-serif' font-weight="normal" font-size="20.50" fill="#3c3c3c" stroke="#3c3c3c" stroke-width="0.42">0.008</text>
<text transform="translate(671.47,2185.32) scale(0.7850,1.0000)" font-family='"Liberation Sans", sans-serif' font-weight="normal" font-size="21.30" fill="#3c3c3c" stroke="#3c3c3c" stroke-width="0.45">3.00E-03</text>
<text transform="translate(671.47,2076.02) scale(0.7850,1.0000)" font-family='"Liberation Sans", sans-serif' font-weight="normal" font-size="21.30" fill="#3c3c3c" stroke="#3c3c3c" stroke-width="0.45">4.00E-03</text>
<text transform="translate(671.47,1966.72) scale(0.7850,1.0000)" font-family='"Liberation Sans", sans-serif' font-weight="normal" font-size="21.30" fill="#3c3c3c" stroke="#3c3c3c" stroke-width="0.45">5.00E-03</text>
<text transform="translate(671.47,1857.42) scale(0.7850,1.0000)" font-family='"Liberation Sans", sans-serif' font-weight="normal" font-size="21.30" fill="#3c3c3c" stroke="#3c3c3c" stroke-width="0.45">6.00E-03</text>
<text transform="translate(671.47,1748.12) scale(0.7850,1.0000)" font-family='"Liberation Sans", sans-serif' font-weight="normal" font-size="21.30" fill="#3c3c3c" stroke="#3c3c3c" stroke-width="0.45">7.00E-03</text>
<text transform="translate(671.47,1638.82) scale(0.7850,1.0000)" font-family='"Liberation Sans", sans-serif' font-weight="normal" font-size="21.30" fill="#3c3c3c" stroke="#3c3c3c" stroke-width="0.45">8.00E-03</text>
<rect x="854.40" y="2102.40" width="9.20" height="11.20" fill="#0000ed" stroke="#262626" stroke-width="1"/>
<rect x="880.50" y="2050.40" width="9.20" height="11.20" fill="#004fed" stroke="#262626" stroke-width="1"/>
<rect x="899.00" y="2027.10" width="9.20" height="11.20" fill="#0089ed" stroke="#262626" stroke-width="1"/>
<rect x="925.60" y="1990.80" width="9.20" height="11.20" fill="#00dded" stroke="#262626" stroke-width="1"/>
<rect x="934.50" y="1990.80" width="9.20" height="11.20" fill="#00ede1" stroke="#262626" stroke-width="1"/>
<rect x="969.70" y="1948.20" width="9.20" height="11.20" fill="#00ed73" stroke="#262626" stroke-width="1"/>
<rect x="1032.30" y="1859.90" width="9.20" height="11.20" fill="#50ed00" stroke="#262626" stroke-width="1"/>
<rect x="1157.40" y="1717.90" width="9.20" height="11.20" fill="#ed0100" stroke="#262626" stroke-width="1"/>
<line x1="788.30" y1="2180.60" x2="1232.60" y2="1633.80" stroke="#505050" stroke-width="1.3"/>
<rect x="1086.5" y="1786" width="13" height="29" fill="#ffffff"/>
<rect x="1099.3" y="1792.7" width="5.2" height="11.8" fill="#edc700" stroke="#2a2a2a" stroke-width="1"/>
<text transform="translate(786.94,1643.50) scale(0.9684,1.0000)" font-family='"Liberation Sans", sans-serif' font-weight="normal" font-size="30.25" fill="#1c1c1c" stroke="#1c1c1c" stroke-width="0.36">Color points by value of</text>
<text transform="translate(785.98,1679.20) scale(0.9684,1.0000)" font-family='"Liberation Sans", sans-serif' font-weight="normal" font-size="30.25" fill="#1c1c1c" stroke="#1c1c1c" stroke-width="0.36">Expansion:</text>
<rect x="796.00" y="1687.00" width="25.40" height="115.70" fill="url(#cb)" stroke="#1a1a1a" stroke-width="2"/>
<text transform="translate(832.13,1715.41) scale(1.0221,1.0000)" font-family='"Liberation Sans", sans-serif' font-weight="normal" font-size="28.55" fill="#ff2222" stroke="#ff2222" stroke-width="0.35">0.0072</text>
<text transform="translate(832.84,1786.21) scale(1.0195,1.0000)" font-family='"Liberation Sans", sans-serif' font-weight="normal" font-size="28.55" fill="#3333ff" stroke="#3333ff" stroke-width="0.35">0.0038</text>
<text transform="translate(1003.82,2188.68) scale(1.1641,1.0000)" font-family='"Liberation Serif", serif' font-weight="bold" font-size="28.32" fill="#000000" stroke="#000000" stroke-width="0.00"><tspan font-weight="normal">(</tspan>f<tspan font-weight="normal">)</tspan></text>
<text transform="translate(672.29,1958.46) rotate(-90) scale(1.0000,0.8223)" font-family='"Liberation Sans", sans-serif' font-weight="normal" font-size="26.14" fill="#111111" stroke="#111111" stroke-width="0.43">Predicted</text>
<text transform="translate(980.65,2339.10) scale(0.8691,1.0000)" font-family='"Liberation Sans", sans-serif' font-weight="normal" font-size="23.56" fill="#111111" stroke="#111111" stroke-width="0.40">Actual</text>
</svg>
</div>
</body></html>
